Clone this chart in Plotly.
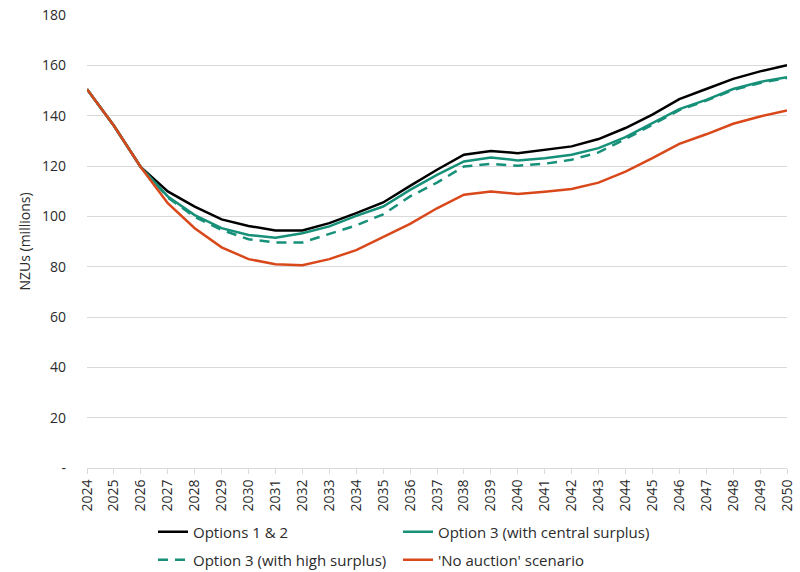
import plotly.graph_objects as go

years = [str(y) for y in range(2024, 2051)]

options_1_2 = [150.5, 136, 119.5, 109.9, 103.9, 98.8, 96.2, 94.4, 94.4, 97.3, 101.3,
               105.5, 112.1, 118.5, 124.5, 126.0, 125.1, 126.4, 127.8, 130.7, 135.1,
               140.4, 146.6, 150.6, 154.6, 157.6, 160.0]
option3_central = [150.5, 136, 119.5, 107.9, 100.5, 95.3, 92.6, 91.5, 93.3, 96.0, 100.2,
                   103.9, 110.5, 116.5, 121.8, 123.4, 122.2, 123.1, 124.5, 127.1, 131.5,
                   137.0, 142.6, 146.3, 150.6, 153.4, 155.3]
option3_high = [150.5, 136, 119.5, 107.5, 99.8, 94.6, 90.9, 89.6, 89.6, 93.0, 96.4,
                100.8, 107.9, 113.4, 119.8, 120.9, 120.1, 120.9, 122.5, 125.4, 130.7,
                136.4, 142.2, 146.0, 150.2, 153.0, 155.0]
no_auction = [150.5, 136, 119.5, 105.2, 95.3, 87.7, 83.0, 81.0, 80.6, 83.0, 86.6,
              91.8, 97.0, 103.2, 108.6, 109.9, 108.9, 109.8, 110.9, 113.4, 117.8,
              123.1, 128.8, 132.6, 136.8, 139.7, 142.1]

y_tickvals = [0, 20, 40, 60, 80, 100, 120, 140, 160, 180]
y_ticktext = ["-", "20", "40", "60", "80", "100", "120", "140", "160", "180"]

FONT = "'Open Sans', Lato, sans-serif"
TXT = "#2b2b2b"
TEAL = "#17907A"

fig = go.Figure()
fig.add_trace(go.Scatter(x=years, y=options_1_2, mode="lines", name="Options 1 & 2",
                         line=dict(color="#000000", width=2.5), legend="legend"))
fig.add_trace(go.Scatter(x=years, y=option3_central, mode="lines",
                         name="Option 3 (with central surplus)",
                         line=dict(color=TEAL, width=2.5), legend="legend2"))
fig.add_trace(go.Scatter(x=years, y=option3_high, mode="lines",
                         name="Option 3 (with high surplus)",
                         line=dict(color=TEAL, width=2.5, dash="10px,7px"),
                         legend="legend3"))
fig.add_trace(go.Scatter(x=years, y=no_auction, mode="lines", name="'No auction' scenario",
                         line=dict(color="#D9481A", width=2.5), legend="legend4"))

leg_common = dict(orientation="h", xref="container", yref="container",
                  xanchor="left", yanchor="middle",
                  font=dict(size=15, color=TXT, family=FONT),
                  bgcolor="rgba(0,0,0,0)")
col1, col2 = 153 / 800, 398 / 800
row1, row2 = 1 - 532 / 572, 1 - 560 / 572

fig.update_layout(
    width=800, height=572,
    margin=dict(l=87, r=13, t=15, b=104, autoexpand=False),
    paper_bgcolor="white", plot_bgcolor="white",
    font=dict(family=FONT, size=14, color=TXT),
    showlegend=True,
    legend=dict(**leg_common, x=col1, y=row1),
    legend2=dict(**leg_common, x=col2, y=row1),
    legend3=dict(**leg_common, x=col1, y=row2),
    legend4=dict(**leg_common, x=col2, y=row2),
    xaxis=dict(type="category", tickangle=-90, showgrid=False, automargin=False,
               showline=True, linecolor="#D9D9D9", linewidth=1,
               ticks="outside", ticklen=5, tickcolor="#D9D9D9",
               range=[0, 26], tickfont=dict(size=14, color=TXT)),
    yaxis=dict(range=[0, 180], tickvals=y_tickvals, ticktext=y_ticktext,
               showgrid=True, gridcolor="#D9D9D9", gridwidth=1, automargin=False,
               zeroline=False, showline=False,
               title=dict(text="NZUs (millions)", font=dict(size=14, color=TXT),
                          standoff=8),
               tickfont=dict(size=14, color=TXT), ticklabelstandoff=20),
)

fig.write_html("out.html")
